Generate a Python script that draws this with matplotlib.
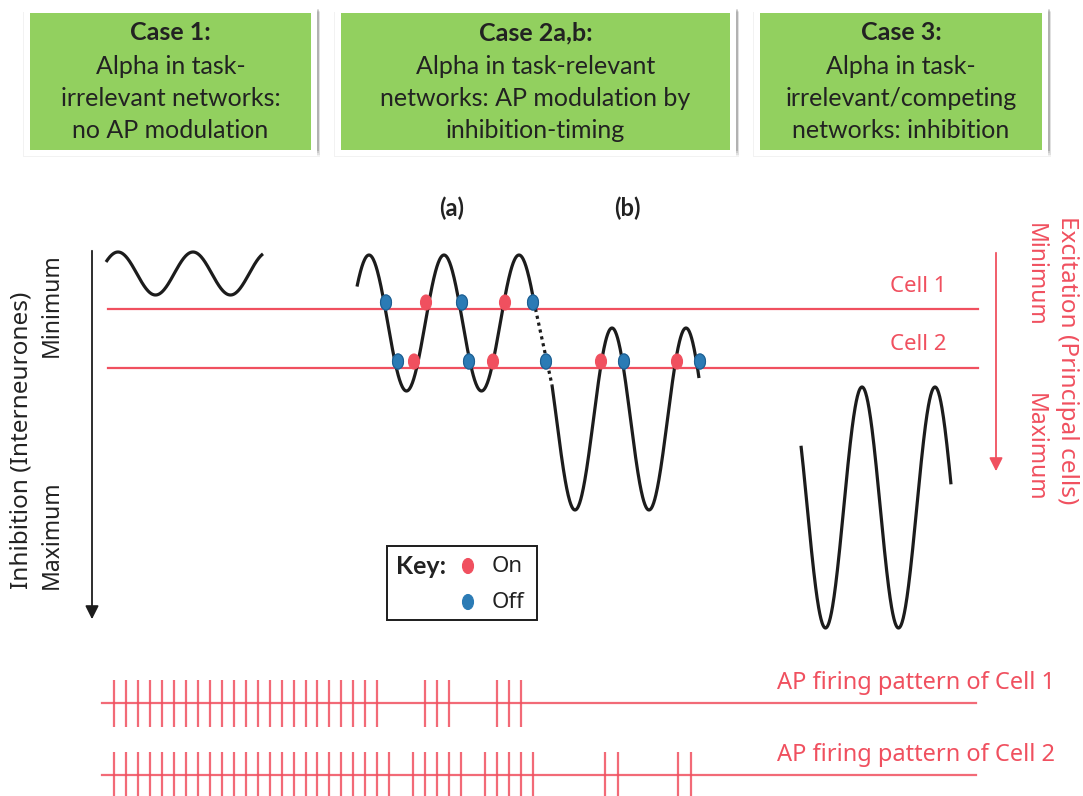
import numpy as np
import matplotlib.pyplot as plt
from matplotlib.patches import Rectangle, Ellipse

# figure in pixel units: x to the right, y downwards
W, H = 1083, 796

# case boxes
case_titles = ["Case 1:", "Case 2a,b:", "Case 3:"]
case_lines = [
    ["Alpha in task-", "irrelevant networks:", "no AP modulation"],
    ["Alpha in task-relevant", "networks: AP modulation by", "inhibition-timing"],
    ["Alpha in task-", "irrelevant/competing", "networks: inhibition"],
]
box_left = [24, 335, 754]
box_right = [317, 736, 1048]

# alpha waves: (x start, x end, peak x, midline y, amplitude, period)
wave_case1 = (106, 263, 118, 273.5, 21.5, 75)
wave_case2a = (357, 534, 369, 323, 68, 75)
wave_case2b = (552, 699, 612, 419, 91, 74)
wave_case3 = (801, 951, 862, 507.5, 120.5, 73)

# cell threshold levels
cell_names = ["Cell 1", "Cell 2"]
cell_y = [309, 368]

# on/off events along each cell line
cell1_on = [426, 505]
cell1_off = [386, 462, 533]
cell2_on = [414, 493, 601, 677]
cell2_off = [398, 469, 546, 624, 700]

# AP firing patterns
spikes_cell1 = [114, 126, 138, 150, 162, 174, 186, 198, 210, 222, 234, 246, 258,
                270, 282, 294, 306, 317, 329, 341, 353, 365, 377,
                425, 437, 449, 497, 509, 521]
spikes_cell2 = [114, 126, 138, 150, 162, 174, 186, 198, 210, 222, 234, 246, 258,
                270, 282, 294, 306, 317, 329, 341, 353, 365, 377, 389,
                413, 425, 437, 449, 461, 485, 497, 509, 521, 533,
                605, 618, 678, 691]

RED = "#f0505f"
BLUE = "#2b7bb5"
GREEN = "#92d05f"
INK = "#1c1c1c"
CAL = ["Lato", "DejaVu Sans"]
SEG = ["Noto Sans", "DejaVu Sans"]

fig = plt.figure(figsize=(W / 100, H / 100), dpi=100)
ax = fig.add_axes([0, 0, 1, 1])
ax.set_xlim(0, W)
ax.set_ylim(H, 0)
ax.axis("off")

# boxes with soft shadow
for i in range(3):
    l, r = box_left[i], box_right[i]
    for k, a in enumerate([0.05, 0.07, 0.09, 0.12]):
        off = 4 - k
        ax.add_patch(Rectangle((l + 1 - off / 2, 8 + off), r - l + off, 148 - 7 + off,
                               facecolor="black", alpha=a, lw=0, zorder=1))
    ax.add_patch(Rectangle((l, 7), r - l, 149, facecolor="white", lw=0, zorder=2))
    ax.add_patch(Rectangle((l + 6, 13), r - l - 12, 137, facecolor=GREEN, lw=0, zorder=3))
    cx = (l + r) / 2
    ax.text(cx, 33, case_titles[i], ha="center", va="center", fontsize=18,
            fontweight="bold", family=CAL, color="#222222", zorder=4)
    for j, line in enumerate(case_lines[i]):
        ax.text(cx, 66 + 32.5 * j, line, ha="center", va="center", fontsize=18,
                family=CAL, color="#222222", zorder=4)


def wave(params):
    x0, x1, px, mid, amp, per = params
    x = np.linspace(x0, x1, 400)
    return x, mid - amp * np.cos(2 * np.pi * (x - px) / per)


for p in [wave_case1, wave_case2a, wave_case2b, wave_case3]:
    x, y = wave(p)
    ax.plot(x, y, color=INK, lw=2.3, solid_capstyle="butt", zorder=5)

# dotted link between (a) and (b)
_, ya = wave(wave_case2a)
_, yb = wave(wave_case2b)
ax.plot([wave_case2a[1], wave_case2b[0]], [ya[-1], yb[0]], color=INK, lw=2.3,
        ls=(0, (1, 1.2)), zorder=5)

# cell lines and labels
for name, yc in zip(cell_names, cell_y):
    ax.plot([108, 978], [yc, yc], color=RED, lw=1.6, zorder=4)
    ax.text(918, yc - 23, name, ha="center", va="center", fontsize=16, family=SEG,
            color=RED)


def dot(x, y, c):
    ax.add_patch(Ellipse((x, y), 11, 15, facecolor=c, edgecolor=c, lw=0.8, zorder=6))


for xs, yc in [(cell1_on, cell_y[0]), (cell2_on, cell_y[1])]:
    for x in xs:
        dot(x, yc - 6.5, RED)
for xs, yc in [(cell1_off, cell_y[0]), (cell2_off, cell_y[1])]:
    for x in xs:
        dot(x, yc - 6.5, BLUE)
        ax.add_patch(Ellipse((x, yc - 6.5), 11, 15, facecolor="none",
                             edgecolor="#1f5f91", lw=0.8, zorder=7))

ax.text(452, 208, "(a)", ha="center", va="center", fontsize=17, fontweight="bold",
        family=CAL, color="#222222")
ax.text(627, 208, "(b)", ha="center", va="center", fontsize=17, fontweight="bold",
        family=CAL, color="#222222")

# left axis: inhibition
ax.annotate("", xy=(92, 622), xytext=(92, 248),
            arrowprops=dict(arrowstyle="-|>", color=INK, lw=1.3, mutation_scale=20))
ax.text(22, 440, "Inhibition (Interneurones)", rotation=90, ha="center", va="center",
        fontsize=17.5, family=SEG, color="#222222")
ax.text(52, 305, "Minimum", rotation=90, ha="center", va="center", fontsize=16.5,
        family=SEG, color="#222222")
ax.text(52, 535, "Maximum", rotation=90, ha="center", va="center", fontsize=16.5,
        family=SEG, color="#222222")

# right axis: excitation
ax.annotate("", xy=(996, 474), xytext=(996, 250),
            arrowprops=dict(arrowstyle="-|>", color=RED, lw=1.3, mutation_scale=20))
ax.text(1067, 360, "Excitation (Principal cells)", rotation=-90, ha="center",
        va="center", fontsize=17.5, family=SEG, color=RED)
ax.text(1035, 275, "Minimum", rotation=-90, ha="center", va="center", fontsize=16.5,
        family=SEG, color=RED)
ax.text(1035, 447, "Maximum", rotation=-90, ha="center", va="center", fontsize=16.5,
        family=SEG, color=RED)

# key
ax.add_patch(Rectangle((387, 546), 150, 74, facecolor="white", edgecolor=INK,
                       lw=1.4, zorder=5))
ax.text(396, 566, "Key:", ha="left", va="center", fontsize=18, fontweight="bold",
        family=CAL, color="#222222", zorder=6)
dot(468, 566, RED)
dot(468, 602, BLUE)
ax.text(492, 566, "On", ha="left", va="center", fontsize=16, family=SEG,
        color="#222222", zorder=6)
ax.text(492, 602, "Off", ha="left", va="center", fontsize=16, family=SEG,
        color="#222222", zorder=6)

# spike trains
for spikes, base, lab in [(spikes_cell1, 703, "AP firing pattern of Cell 1"),
                          (spikes_cell2, 775, "AP firing pattern of Cell 2")]:
    ax.plot([102, 976], [base, base], color=RED, lw=1.6, alpha=0.85)
    ax.vlines(spikes, base - 23.5, base + 24, color=RED, lw=1.6, alpha=0.85)
    ax.text(1055, base - 20, lab, ha="right", va="center", fontsize=17,
            family=SEG, color=RED)

fig.savefig("out.png", dpi=100)
